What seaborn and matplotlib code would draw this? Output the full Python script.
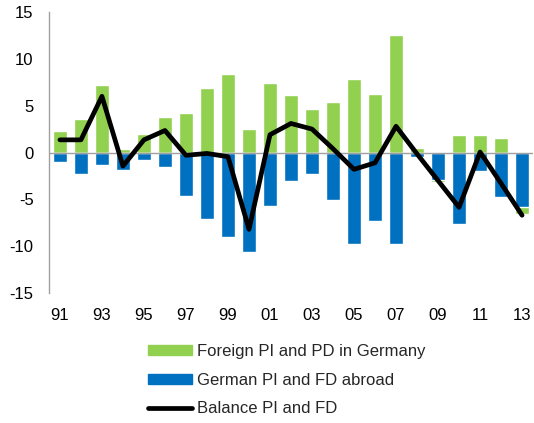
import numpy as np
import pandas as pd
import matplotlib
matplotlib.use("Agg")
import matplotlib.pyplot as plt
import seaborn as sns
from matplotlib.patches import Patch
from matplotlib.lines import Line2D

years = ['91', '92', '93', '94', '95', '96', '97', '98', '99', '00', '01', '02',
         '03', '04', '05', '06', '07', '08', '09', '10', '11', '12', '13']
foreign = [2.3, 3.6, 7.25, 0.4, 2.0, 3.8, 4.2, 6.9, 8.4, 2.5, 7.45, 6.1,
           4.6, 5.4, 7.9, 6.2, 12.5, 0.45, -0.25, 1.85, 1.9, 1.6, -0.8]
german = [-1.0, -2.25, -1.3, -1.9, -0.8, -1.5, -4.6, -7.1, -9.05, -10.6, -5.7, -3.05,
          -2.3, -5.1, -9.75, -7.35, -9.75, -0.5, -2.9, -7.6, -2.0, -4.8, -5.8]
balance = [1.35, 1.35, 6.0, -1.45, 1.35, 2.35, -0.3, -0.1, -0.45, -8.2, 1.9, 3.1,
           2.5, 0.4, -1.8, -1.1, 2.8, -0.15, -3.0, -5.85, 0.05, -3.3, -6.7]

green = '#92D050'
blue = '#0070C0'

df = pd.DataFrame({'year': years, 'foreign': foreign, 'german': german, 'balance': balance})
# negative foreign values are stacked below the German bar (Excel style)
df['foreign_top'] = np.where(df['foreign'] >= 0, df['foreign'], df['german'] + df['foreign'])

sns.set_theme(style="white")
plt.rcParams['font.family'] = ['Liberation Sans', 'DejaVu Sans']
plt.rcParams['axes.unicode_minus'] = False

fig = plt.figure(figsize=(5.34, 4.23), dpi=100)
ax = fig.add_axes([49 / 534, 1 - 293 / 423, 484 / 534, 281 / 423])

sns.barplot(data=df, x='year', y='foreign_top', color=green, saturation=1, width=0.67, ax=ax)
sns.barplot(data=df, x='year', y='german', color=blue, saturation=1, width=0.67, ax=ax)
sns.lineplot(x=np.arange(len(years)), y=df['balance'], color='black', linewidth=3.4,
             ax=ax, zorder=5)

ax.axhline(0, color='#A0A0A0', linewidth=1, zorder=1)
ax.set_xlim(-0.52, len(years) - 0.48)
ax.set_ylim(-15, 15)
ax.set_yticks(range(-15, 16, 5))
ax.set_xticks(range(0, len(years), 2))
ax.set_xticklabels(years[::2])
ax.set_xlabel('')
ax.set_ylabel('')
ax.tick_params(axis='both', length=0, labelsize=12, colors='black')
ax.tick_params(axis='y', pad=11)
ax.tick_params(axis='x', pad=10.5)

for s in ['top', 'right', 'bottom']:
    ax.spines[s].set_visible(False)
ax.spines['left'].set_color('#A0A0A0')
ax.spines['left'].set_linewidth(1)

handles = [Patch(color=green, label='Foreign PI and PD in Germany'),
           Patch(color=blue, label='German PI and FD abroad'),
           Line2D([0], [0], color='black', linewidth=3.4, label='Balance PI and FD')]
fig.legend(handles=handles, loc='center left', bbox_to_anchor=(148 / 534, 1 - 380 / 423),
           frameon=False, fontsize=12, handlelength=2.65, handleheight=0.55,
           handletextpad=0.3, labelspacing=0.82, borderpad=0, borderaxespad=0)

fig.savefig('out.png', dpi=100)
